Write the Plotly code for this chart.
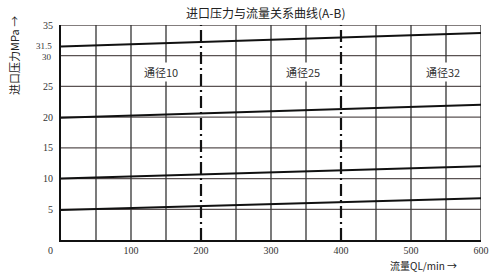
import plotly.graph_objects as go

flow = [0, 600]
p_315 = [31.5, 33.7]
p_20 = [19.9, 22.0]
p_10 = [10.0, 12.0]
p_5 = [4.9, 6.8]
series = [p_315, p_20, p_10, p_5]

y_ticks = [5, 10, 15, 20, 25, 35]
y_close_ticks = [31.5, 30]
x_ticks = [100, 200, 300, 400, 500, 600]
h_grid = [5, 10, 15, 20, 25, 30, 35]
v_grid = [50, 100, 150, 250, 300, 350, 450, 500, 550, 600]
v_dash = [200, 400]
labels = ["通径10", "通径25", "通径32"]
label_x = [143, 346, 545]
label_y = 27.4

serif = "Liberation Serif, DejaVu Serif, serif"
cjk = "Noto Sans CJK SC"

L, R, T, B = 61, 11, 25, 32
W, H = 500, 272
pw, ph = W - L - R, H - T - B

def px(x):
    return (x - L) / pw

def py(y):
    return (H - B - y) / ph

fig = go.Figure()
for s in series:
    fig.add_trace(go.Scatter(x=flow, y=s, mode="lines",
                             line=dict(color="#111", width=2), showlegend=False))

shapes = []
for g in h_grid:
    shapes.append(dict(type="line", xref="x", yref="y", x0=0, x1=600, y0=g, y1=g,
                       line=dict(color="#5a5252", width=1.3), layer="below"))
for g in v_grid:
    shapes.append(dict(type="line", xref="x", yref="y", x0=g, x1=g, y0=0, y1=35,
                       line=dict(color="#333", width=1.3), layer="below"))
for g in v_dash:
    shapes.append(dict(type="line", xref="x", yref="y", x0=g, x1=g, y0=0, y1=35,
                       line=dict(color="#111", width=2.2, dash="12px,4px,2px,4px"), layer="below"))

annotations = []
for t, lx in zip(labels, label_x):
    annotations.append(dict(x=lx, y=label_y, xref="x", yref="y", text=t, showarrow=False,
                            font=dict(family=cjk, size=11, color="#333"), bgcolor="white"))
for v, sh in zip(y_close_ticks, [1, -1]):
    annotations.append(dict(x=0, y=v, xref="x", yref="y", text=str(v), showarrow=False,
                            xanchor="right", yanchor="middle", xshift=-7, yshift=sh,
                            font=dict(family=serif, size=9, color="#333")))
annotations.append(dict(x=0, y=0, xref="x", yref="y", text="0", showarrow=False,
                        xshift=-11, yshift=-10, font=dict(family=serif, size=10, color="#333")))
annotations.append(dict(x=px(269), y=py(12), xref="paper", yref="paper",
                        xanchor="center", yanchor="middle",
                        text="进口压力与流量关系曲线(A-B)", showarrow=False,
                        font=dict(family=cjk, size=12, color="#222")))
annotations.append(dict(x=px(13), y=py(55), xref="paper", yref="paper",
                        xanchor="center", yanchor="middle", text="进口压力MPa →",
                        showarrow=False, textangle=-90,
                        font=dict(family=cjk, size=11, color="#222")))
annotations.append(dict(x=px(430), y=py(265), xref="paper", yref="paper",
                        xanchor="center", yanchor="middle", text="流量QL/min →", showarrow=False,
                        font=dict(family=cjk, size=10, color="#222")))

fig.update_layout(
    width=W, height=H,
    margin=dict(l=L, r=R, t=T, b=B),
    paper_bgcolor="white", plot_bgcolor="white",
    shapes=shapes, annotations=annotations,
    xaxis=dict(range=[0, 600], tickvals=x_ticks, ticktext=[str(v) for v in x_ticks],
               showgrid=False, zeroline=False, showline=True, linecolor="#111", linewidth=2,
               ticks="", tickfont=dict(family=serif, size=10, color="#333")),
    yaxis=dict(range=[0, 35], tickvals=y_ticks, ticktext=[str(v) for v in y_ticks],
               showgrid=False, zeroline=False, showline=True, linecolor="#111", linewidth=2,
               ticks="", ticklabelstandoff=4, tickfont=dict(family=serif, size=10, color="#333")),
)

fig.write_html("out.html")
